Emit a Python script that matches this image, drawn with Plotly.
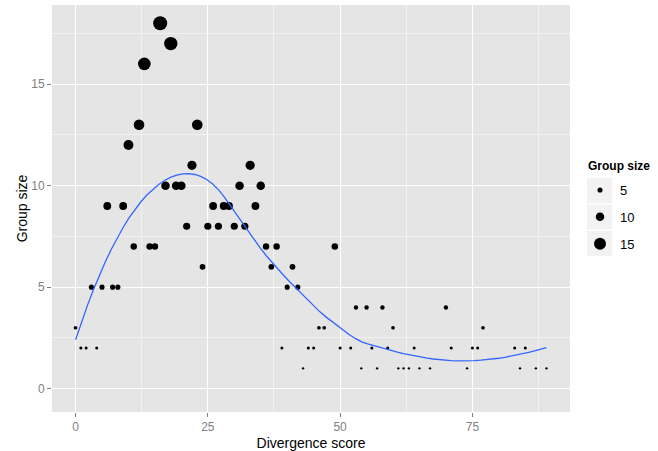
import numpy as np
import plotly.graph_objects as go

# divergence score (x) and group size (y)
divergence = [0, 1, 2, 3, 4, 5, 6, 7, 8, 9, 10, 11, 12, 13, 14, 15, 16, 17, 18, 19,
              20, 21, 22, 23, 24, 25, 26, 27, 28, 29, 30, 31, 32, 33, 34, 35, 36, 37, 38, 39,
              40, 41, 42, 43, 44, 45, 46, 47, 49, 50, 52, 53, 54, 55, 56, 57, 58, 59, 60, 61,
              62, 63, 64, 65, 67, 70, 71, 74, 75, 76, 77, 83, 84, 85, 87, 89]
group_size = [3, 2, 2, 5, 2, 5, 9, 5, 5, 9, 12, 7, 13, 16, 7, 7, 18, 10, 17, 10,
              10, 8, 11, 13, 6, 8, 9, 8, 9, 9, 8, 10, 8, 11, 9, 10, 7, 6, 7, 2,
              5, 6, 5, 1, 2, 2, 3, 3, 7, 2, 2, 4, 1, 4, 2, 1, 4, 2, 3, 1,
              1, 1, 2, 1, 1, 4, 2, 1, 2, 2, 3, 2, 1, 2, 1, 1]
legend_sizes = [5, 10, 15]
x_ticks = [0, 25, 50, 75]
y_ticks = [0, 5, 10, 15]


def loess(x, y, xs, span=0.75):
    # local quadratic fit with tricube weights (like geom_smooth's default)
    x = np.asarray(x, float)
    y = np.asarray(y, float)
    n = len(x)
    q = int(np.floor(n * span))
    fit = []
    for x0 in xs:
        d = np.abs(x - x0)
        h = np.sort(d)[q - 1]
        w = np.clip(1 - (d / h) ** 3, 0, None) ** 3
        X = np.vstack([np.ones(n), x - x0, (x - x0) ** 2]).T
        sw = np.sqrt(w)
        beta = np.linalg.lstsq(X * sw[:, None], y * sw, rcond=None)[0]
        fit.append(beta[0])
    return np.array(fit)


lo, hi = min(group_size), max(group_size)


def dot_px(v):
    # old ggplot size scale: linear from 1 to 6
    return 2.34 * (1 + 5 * (np.asarray(v, float) - lo) / (hi - lo))


xs = np.linspace(min(divergence), max(divergence), 80)
smooth = loess(divergence, group_size, xs)

fig = go.Figure()
fig.add_trace(go.Scatter(
    x=divergence, y=group_size, mode="markers",
    marker=dict(color="black", opacity=1, size=dot_px(group_size), line=dict(width=0)),
    showlegend=False))
fig.add_trace(go.Scatter(
    x=xs, y=smooth, mode="lines",
    line=dict(color="#3366FF", width=1.3), showlegend=False))

for i, s in enumerate(legend_sizes):
    fig.add_trace(go.Scatter(
        x=[None], y=[None], mode="markers", name=str(s),
        legendgroup="g%d" % i,
        marker=dict(color="black", size=float(dot_px(s)))))


def px_x(p):
    return (p - 52) / 518


def px_y(p):
    return (412 - p) / 407


# grey legend key backgrounds
for i in range(len(legend_sizes)):
    top = 178 + i * 26.5
    fig.add_shape(type="rect", xref="paper", yref="paper",
                  x0=px_x(587), x1=px_x(612), y0=px_y(top + 25), y1=px_y(top),
                  fillcolor="#F2F2F2", line=dict(width=0), layer="below")

fig.add_annotation(text="<b>Group size</b>", xref="paper", yref="paper",
                   x=px_x(586), y=px_y(166), xanchor="left", yanchor="middle",
                   showarrow=False, font=dict(size=12, color="black"))

axis_font = dict(family="Liberation Sans, Arial, sans-serif", size=12, color="#7F7F7F")
fig.update_layout(
    width=658, height=451,
    margin=dict(l=52, r=88, t=5, b=39),
    paper_bgcolor="white", plot_bgcolor="#E5E5E5",
    font=dict(family="Liberation Sans, Arial, sans-serif", size=12, color="black"),
    legend=dict(
        x=px_x(580), xanchor="left", y=px_y(175), yanchor="top",
        bgcolor="rgba(0,0,0,0)", tracegroupgap=7, font=dict(size=13)),
)
fig.update_xaxes(
    range=[-4.45, 93.45], tickvals=x_ticks, tickfont=axis_font, automargin=False,
    showgrid=True, gridcolor="white", gridwidth=1.2, zeroline=False,
    ticks="outside", ticklen=4, tickcolor="#7F7F7F",
    minor=dict(tickvals=[12.5, 37.5, 62.5, 87.5], showgrid=True,
               gridcolor="#F2F2F2", gridwidth=0.6, ticks=""),
    title=dict(text="Divergence score", font=dict(size=14), standoff=6))
fig.update_yaxes(
    range=[-1.15, 18.9], tickvals=y_ticks, tickfont=axis_font, automargin=False,
    showgrid=True, gridcolor="white", gridwidth=1.2, zeroline=False,
    ticks="outside", ticklen=4, tickcolor="#7F7F7F",
    minor=dict(tickvals=[2.5, 7.5, 12.5, 17.5], showgrid=True,
               gridcolor="#F2F2F2", gridwidth=0.6, ticks=""),
    title=dict(text="Group size", font=dict(size=14), standoff=0))

fig.write_html("out.html", config={"displayModeBar": False},
               post_script="document.body.style.margin='0';")
